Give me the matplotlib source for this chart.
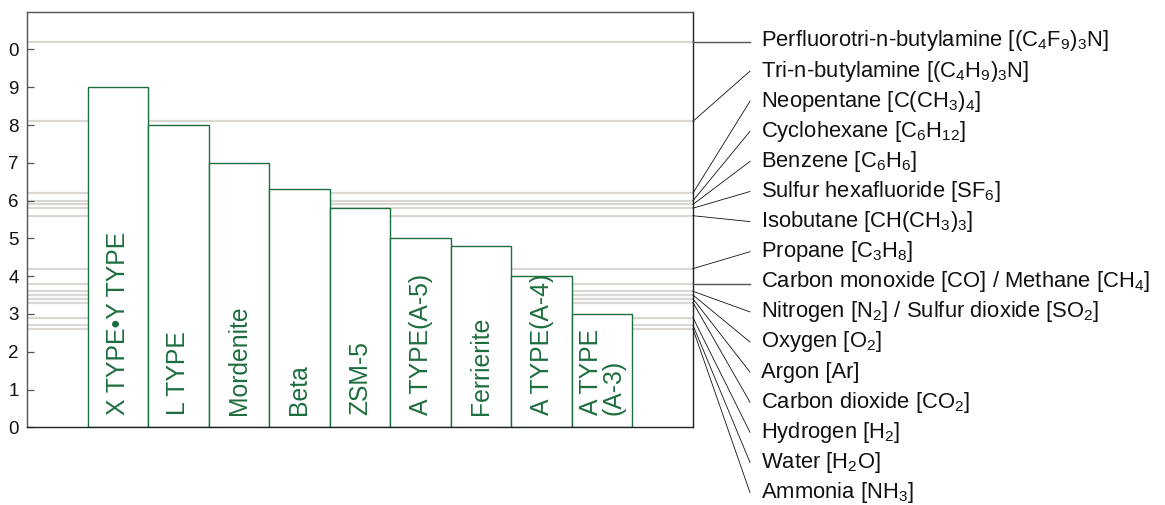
import matplotlib
matplotlib.use("Agg")
import matplotlib.pyplot as plt

plt.rcParams['font.family'] = ['Liberation Sans', 'DejaVu Sans']
plt.rcParams['mathtext.default'] = 'regular'
plt.rcParams['mathtext.fontset'] = 'custom'
plt.rcParams['mathtext.rm'] = 'Liberation Sans'

# Zeolite pore sizes (Angstrom)
zeolites = ["X TYPE\u2022Y TYPE", "L TYPE", "Mordenite", "Beta", "ZSM-5",
            "A TYPE(A-5)", "Ferrierite", "A TYPE(A-4)", "A TYPE\n(A-3)"]
pore_sizes = [9.0, 8.0, 7.0, 6.3, 5.8, 5.0, 4.8, 4.0, 3.0]

# Molecular kinetic diameters (Angstrom)
molecule_lines = [10.2, 8.1, 6.2, 6.0, 5.9, 5.8, 5.6, 4.2, 3.8, 3.6, 3.5, 3.4, 3.3, 2.9, 2.7, 2.6]
molecule_labels = [
    r"Perfluorotri-n-butylamine [(C$_4$F$_9$)$_3$N]",
    r"Tri-n-butylamine [(C$_4$H$_9$)$_3$N]",
    r"Neopentane [C(CH$_3$)$_4$]",
    r"Cyclohexane [C$_6$H$_{12}$]",
    r"Benzene [C$_6$H$_6$]",
    r"Sulfur hexafluoride [SF$_6$]",
    r"Isobutane [CH(CH$_3$)$_3$]",
    r"Propane [C$_3$H$_8$]",
    r"Carbon monoxide [CO] / Methane [CH$_4$]",
    r"Nitrogen [N$_2$] / Sulfur dioxide [SO$_2$]",
    r"Oxygen [O$_2$]",
    r"Argon [Ar]",
    r"Carbon dioxide [CO$_2$]",
    r"Hydrogen [H$_2$]",
    r"Water [H$_2$O]",
    r"Ammonia [NH$_3$]",
]
ytick_values = list(range(11))
ytick_labels = ["0", "1", "2", "3", "4", "5", "6", "7", "8", "9", "0"]

W, H = 1165, 505
fig = plt.figure(figsize=(W / 100, H / 100), dpi=100)
ax_l, ax_r, ax_b, ax_t = 27, 693, 427.3, 11.7
ax = fig.add_axes([ax_l / W, 1 - ax_b / H, (ax_r - ax_l) / W, (ax_b - ax_t) / H])
ax.set_xlim(-1, 10)
ax.set_ylim(0, 11)

green = "#1d6e3e"
for v in molecule_lines:
    ax.axhline(v, color="#dbd7d2", lw=1.6, zorder=1)

ax.bar(range(len(pore_sizes)), pore_sizes, width=1, align="edge",
       facecolor="white", edgecolor=green, linewidth=1.0, zorder=2)
for i, name in enumerate(zeolites):
    ax.text(i + 0.5, 0.32, name, rotation=90, ha="center", va="bottom",
            multialignment="left", color=green, fontsize=17.8, zorder=3,
            linespacing=0.9)

ax.set_xticks([])
ax.set_yticks(ytick_values)
ax.set_yticklabels(ytick_labels)
ax.tick_params(axis="y", direction="in", length=5, width=0.9, color="#555555",
               labelsize=13.5, pad=6, labelcolor="#111111")
for side in ["left", "top"]:
    ax.spines[side].set_color("#555555")
    ax.spines[side].set_linewidth(1.0)
for side in ["right", "bottom"]:
    ax.spines[side].set_color("#222222")
    ax.spines[side].set_linewidth(1.0)

# labels on the right with connector lines
unit_px = (ax_b - ax_t) / 11.0
trans = ax.get_yaxis_transform()
x_end = (750 - ax_l) / (ax_r - ax_l)
x_txt = (761 - ax_l) / (ax_r - ax_l)
for i, (v, lab) in enumerate(zip(molecule_lines, molecule_labels)):
    ypx = 41 + 30.1 * i
    ylab = (ax_b - ypx) / unit_px
    col = "#555555" if i in (0, 8) else "#111111"
    lw = 1.0 if i in (0, 8) else 0.6
    yend = v if i in (0, 8) else ylab
    ax.plot([1.0, x_end], [v, yend], transform=trans,
            color=col, lw=lw, clip_on=False, zorder=4)
    ax.text(x_txt, ylab, lab, transform=trans, ha="left", va="center",
            fontsize=15.8, color="#111111", clip_on=False)

fig.savefig("out.png", dpi=100)
